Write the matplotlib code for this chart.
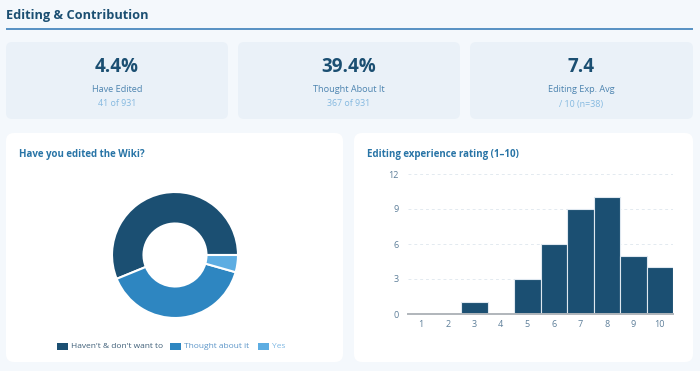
import matplotlib
matplotlib.use("Agg")
import matplotlib.pyplot as plt
from matplotlib.patches import FancyBboxPatch, Rectangle

W, H = 700, 371

# data
kpi_values = ["4.4%", "39.4%", "7.4"]
kpi_labels = ["Have Edited", "Thought About It", "Editing Exp. Avg"]
kpi_subs = ["41 of 931", "367 of 931", "/ 10 (n=38)"]

donut_labels = ["Haven't & don't want to", "Thought about it", "Yes"]
donut_counts = [523, 367, 41]
donut_colors = ["#1b4f72", "#2e86c1", "#5dade2"]
legend_text_colors = ["#3f5f78", "#5b95c8", "#7db7e3"]

ratings = [1, 2, 3, 4, 5, 6, 7, 8, 9, 10]
rating_counts = [0, 0, 1, 0, 3, 6, 9, 10, 5, 4]

plt.rcParams['font.family'] = ['Open Sans', 'DejaVu Sans']

fig = plt.figure(figsize=(W / 100, H / 100), dpi=100)
fig.patch.set_facecolor("#f4f8fc")


def fx(x):
    return x / W


def fy(y):
    return 1 - y / H


def box(x0, y0, x1, y1, color, r=6):
    p = FancyBboxPatch((fx(x0), fy(y1)), fx(x1 - x0), (y1 - y0) / H,
                       boxstyle="round,pad=0,rounding_size=%f" % (r / W),
                       transform=fig.transFigure, facecolor=color,
                       edgecolor="none", mutation_aspect=W / H, zorder=-2)
    fig.patches.append(p)


# header
fig.text(fx(6), fy(16), "Editing & Contribution", fontsize=9.2,
         fontweight="bold", color="#1b4f72", va="center", ha="left")
fig.patches.append(Rectangle((fx(6), fy(30)), fx(687), 1.6 / H,
                             transform=fig.transFigure, zorder=-2,
                             facecolor="#5a93c4", edgecolor="none"))

# kpi cards
card_x = [(6, 228), (238, 460), (470, 693)]
for (x0, x1), v, lab, sub in zip(card_x, kpi_values, kpi_labels, kpi_subs):
    box(x0, 42, x1, 119, "#eaf1f8", r=6)
    cx = (x0 + x1) / 2
    fig.text(fx(cx), fy(67), v, fontsize=13.5, fontweight="bold",
             color="#1b4f72", ha="center", va="center")
    fig.text(fx(cx), fy(89), lab, fontsize=6.6, color="#4d84b0",
             ha="center", va="center")
    fig.text(fx(cx), fy(104), sub, fontsize=6.4, color="#85b9e0",
             ha="center", va="center")

# panels
box(6, 133, 343, 362, "white", r=8)
box(354, 133, 693, 362, "white", r=8)
fig.text(fx(19), fy(154), "Have you edited the Wiki?", fontsize=7,
         fontweight="bold", color="#2874a6", ha="left", va="center")
fig.text(fx(367), fy(154), "Editing experience rating (1\u201310)",
         fontsize=7, fontweight="bold", color="#2874a6",
         ha="left", va="center")

# donut
r = 63
ax1 = fig.add_axes([fx(175 - r), fy(255 + r), fx(2 * r), 2 * r / H])
ax1.pie(donut_counts, colors=donut_colors, startangle=0, counterclock=True,
        radius=1, wedgeprops=dict(width=0.5, edgecolor="white", linewidth=1.5))
ax1.set_xlim(-1, 1)
ax1.set_ylim(-1, 1)
ax1.set_aspect("equal")
ax1.axis("off")

# donut legend
leg_x = [57, 170, 258]
for lx, lab, c, tc in zip(leg_x, donut_labels, donut_colors, legend_text_colors):
    fig.patches.append(Rectangle((fx(lx), fy(350)), fx(11), 7.5 / H,
                                 transform=fig.transFigure, facecolor=c,
                                 edgecolor="none"))
    fig.text(fx(lx + 14), fy(346), lab, fontsize=6.0, color=tc,
             ha="left", va="center")

# histogram
ax2 = fig.add_axes([fx(408), fy(314), fx(673 - 408), (314 - 174) / H])
ax2.bar(ratings, rating_counts, width=1.0, color="#1b4f72",
        edgecolor="#dfe8f0", linewidth=0.8, zorder=3)
ax2.set_xlim(0.5, 10.5)
ax2.set_ylim(0, 12)
ax2.set_yticks([0, 3, 6, 9, 12])
ax2.set_xticks(ratings)
ax2.tick_params(length=0, labelsize=6.5, labelcolor="#5d7e99", pad=4)
ax2.tick_params(axis="y", pad=7)
for y in [3, 6, 9, 12]:
    ax2.axhline(y, color="#e3eaf0", linestyle=(0, (3, 3)), linewidth=0.7,
                zorder=1)
for s in ["top", "right", "left"]:
    ax2.spines[s].set_visible(False)
ax2.spines["bottom"].set_color("#b0b6bb")
ax2.spines["bottom"].set_linewidth(1.4)
ax2.spines["bottom"].set_zorder(4)
ax2.set_facecolor("none")

fig.savefig("out.png", dpi=100, facecolor=fig.get_facecolor())
